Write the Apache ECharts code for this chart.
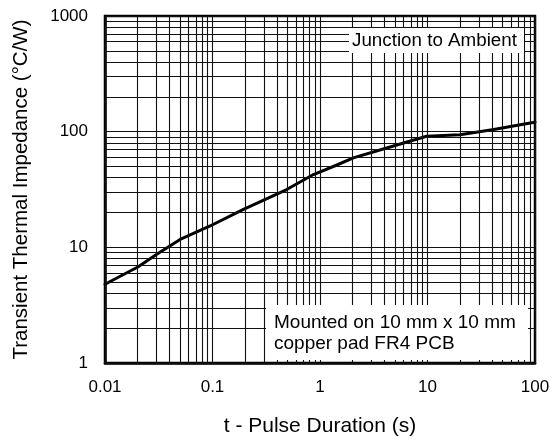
<!DOCTYPE html>
<html>
<head>
<meta charset="utf-8">
<script src="https://cdn.jsdelivr.net/npm/echarts@6/dist/echarts.min.js"></script>
<style>html,body{margin:0;padding:0;background:#fff}#c{width:556px;height:442px}</style>
</head>
<body>
<div id="c"></div>
<script>
// Data
var pulseDuration = [0.01, 0.0204, 0.0303, 0.05, 0.095, 0.194, 0.49, 0.87, 1.4, 2.04, 4.17, 9.8, 20, 40, 96, 100];
var impedance =     [4.8,  6.8,    8.7,    11.7, 15.3,  21.3,  31.6, 42.6, 51,  59.3, 72.3, 91.2, 94.2, 104, 120, 121];
var xTicks = [0.01, 0.1, 1, 10, 100];
var yTicks = [1, 10, 100, 1000];
var xLabel = 't - Pulse Duration (s)';
var yLabel = 'Transient Thermal Impedance (°C/W)';
var note1 = 'Junction to Ambient';
var note2 = ['Mounted on 10 mm x 10 mm', 'copper pad FR4 PCB'];

var FONT = '"Liberation Sans", Arial, Helvetica, sans-serif';

// grid lines at 1..9 x each decade
function decadeLines(ticks) {
  var out = [];
  for (var i = 0; i < ticks.length - 1; i++) {
    for (var m = 1; m <= 9; m++) out.push(+(ticks[i] * m).toPrecision(3));
  }
  out.push(ticks[ticks.length - 1]);
  return out;
}
var gridData = [];
decadeLines(xTicks).forEach(function (v) { gridData.push({ xAxis: v }); });
decadeLines(yTicks).forEach(function (v) { gridData.push({ yAxis: v }); });

var chart = echarts.init(document.getElementById('c'), null, { renderer: 'canvas' });
chart.setOption({
  animation: false,
  backgroundColor: '#fff',
  grid: { left: 105, top: 16, right: 21, bottom: 78, show: true, borderColor: '#000', borderWidth: 2.5, backgroundColor: 'transparent', z: 5 },
  xAxis: {
    type: 'log', logBase: 10, min: 0.01, max: 100,
    name: xLabel, nameLocation: 'middle', nameGap: 53,
    nameTextStyle: { fontFamily: FONT, fontSize: 21, color: '#000' },
    axisLine: { show: true, lineStyle: { color: '#000', width: 2.5 } },
    axisTick: { show: false },
    splitLine: { show: false },
    axisLabel: { fontFamily: FONT, fontSize: 17, color: '#000', margin: 16,
      formatter: function (v) { return String(+v.toPrecision(3)); } }
  },
  yAxis: {
    type: 'log', logBase: 10, min: 1, max: 1000,
    name: yLabel, nameLocation: 'middle', nameGap: 73, nameRotate: 90,
    nameTextStyle: { fontFamily: FONT, fontSize: 20.5, color: '#000' },
    axisLine: { show: true, lineStyle: { color: '#000', width: 2.5 } },
    axisTick: { show: false },
    splitLine: { show: false },
    axisLabel: { fontFamily: FONT, fontSize: 17, color: '#000', margin: 17,
      formatter: function (v) { return String(+v.toPrecision(3)); } }
  },
  series: [
    {
      type: 'line', name: 'grid', data: [], z: 1, silent: true,
      markLine: {
        silent: true, symbol: 'none', animation: false,
        label: { show: false },
        lineStyle: { color: '#111', width: 1.1, type: 'solid' },
        emphasis: { disabled: true },
        data: gridData
      }
    },
    {
      type: 'line', name: 'Zth', z: 3, showSymbol: false, smooth: false,
      data: pulseDuration.map(function (x, i) { return [x, impedance[i]]; }),
      lineStyle: { color: '#000', width: 3, join: 'round', cap: 'round' }
    }
  ],
  graphic: [
    { type: 'rect', z: 10, shape: { x: 349, y: 28, width: 175, height: 25 }, style: { fill: '#fff' } },
    { type: 'text', z: 11, x: 352, y: 41, style: { text: note1, font: '18.8px ' + FONT, fill: '#000', textVerticalAlign: 'middle' } },
    { type: 'rect', z: 10, shape: { x: 266, y: 305, width: 262, height: 55 }, style: { fill: '#fff' } },
    { type: 'text', z: 11, x: 274, y: 323, style: { text: note2[0], font: '19px ' + FONT, fill: '#000', textVerticalAlign: 'middle' } },
    { type: 'text', z: 11, x: 274, y: 344, style: { text: note2[1], font: '19px ' + FONT, fill: '#000', textVerticalAlign: 'middle' } }
  ]
});
</script>
</body>
</html>
